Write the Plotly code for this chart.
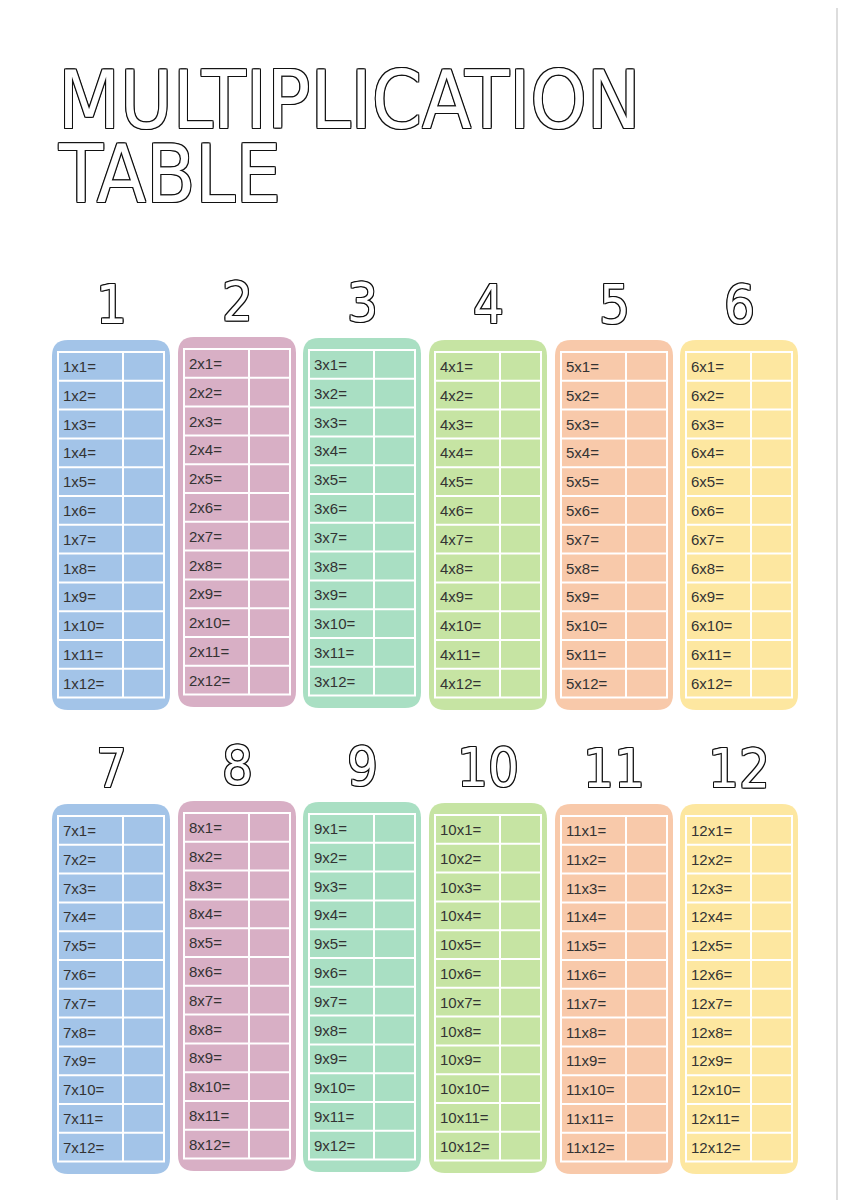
import plotly.graph_objects as go

# tables shown on the poster
tables = [1, 2, 3, 4, 5, 6, 7, 8, 9, 10, 11, 12]
multipliers = list(range(1, 13))
card_colors = ["#a3c4e8", "#d8afc5", "#a9dfc3", "#c6e4a3", "#f8c9aa", "#fde7a0"]
title_lines = ["MULTIPLICATION", "TABLE"]

W, H = 849, 1200
OFF = 8  # page body margin
col_left = [52, 178, 303, 429, 555, 680]
card_w = 118
row_tops = [[340, 337, 338, 340, 340, 340], [804, 801, 802, 803, 804, 804]]
card_h = 370
row_h = 28.8

outline = "1px 1px 0 #111, -1px -1px 0 #111, 1px -1px 0 #111, -1px 1px 0 #111, 0 1px 0 #111, 0 -1px 0 #111, 1px 0 0 #111, -1px 0 0 #111"


def rounded(x0, y0, x1, y1, r):
    return (f"M{x0+r},{y0} L{x1-r},{y0} Q{x1},{y0} {x1},{y0+r} "
            f"L{x1},{y1-r} Q{x1},{y1} {x1-r},{y1} L{x0+r},{y1} "
            f"Q{x0},{y1} {x0},{y1-r} L{x0},{y0+r} Q{x0},{y0} {x0+r},{y0} Z")


shapes = []
annotations = []

for i, t in enumerate(tables):
    r, c = divmod(i, 6)
    x0 = col_left[c]
    y0 = row_tops[r][c]
    color = card_colors[c]
    shapes.append(dict(type="path", path=rounded(x0, y0, x0 + card_w, y0 + card_h, 16),
                       fillcolor=color, line=dict(width=0), layer="below"))
    tx0, tx1 = x0 + 6, x0 + card_w - 6
    ty0 = y0 + 12
    ty1 = ty0 + row_h * len(multipliers)
    shapes.append(dict(type="rect", x0=tx0, x1=tx1, y0=ty0, y1=ty1,
                       line=dict(color="white", width=2)))
    shapes.append(dict(type="line", x0=x0 + 71, x1=x0 + 71, y0=ty0, y1=ty1,
                       line=dict(color="white", width=2)))
    for k, m in enumerate(multipliers):
        if k > 0:
            yy = ty0 + k * row_h
            shapes.append(dict(type="line", x0=tx0, x1=tx1, y0=yy, y1=yy,
                               line=dict(color="white", width=2)))
        annotations.append(dict(x=x0 + 9, y=ty0 + (k + 0.5) * row_h, text=f"{t}x{m}=",
                                xanchor="left", yanchor="middle", showarrow=False,
                                font=dict(family="Liberation Sans, Arial", size=15, color="#333")))
    annotations.append(dict(x=x0 + card_w / 2, y=y0 - 2, text=str(t), xanchor="center",
                            yanchor="bottom", showarrow=False,
                            font=dict(family="DejaVu Sans Condensed, DejaVu Sans",
                                      size=54, color="white", shadow=outline)))

for j, line in enumerate(title_lines):
    annotations.append(dict(x=56, y=52 + j * 74, text=line, xanchor="left", yanchor="top",
                            showarrow=False,
                            font=dict(family="DejaVu Sans Condensed, DejaVu Sans",
                                      size=80, color="white", shadow=outline)))

shapes.append(dict(type="line", x0=837, x1=837, y0=0, y1=H, line=dict(color="#bbb", width=1)))

fig = go.Figure()
fig.update_layout(width=W, height=H, margin=dict(l=0, r=0, t=0, b=0),
                  plot_bgcolor="white", paper_bgcolor="white",
                  xaxis=dict(range=[OFF, W + OFF], visible=False, fixedrange=True),
                  yaxis=dict(range=[H + OFF, OFF], visible=False, fixedrange=True),
                  shapes=shapes, annotations=annotations, showlegend=False)
fig.write_html("out.html")
